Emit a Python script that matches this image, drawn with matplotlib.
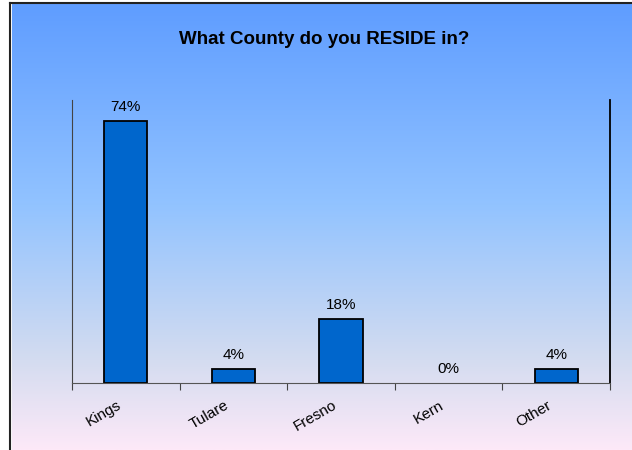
import numpy as np
import matplotlib.pyplot as plt
import matplotlib.transforms as mtransforms
from matplotlib.colors import LinearSegmentedColormap

plt.rcParams['font.family'] = ['Liberation Sans', 'DejaVu Sans']

# survey answers
counties = ['Kings', 'Tulare', 'Fresno', 'Kern', 'Other']
percent = [74, 4, 18, 0, 4]

fig = plt.figure(figsize=(6.32, 4.5), dpi=100)

# gradient background behind the chart
bg = fig.add_axes([12 / 632, 0, 620 / 632, 446 / 450])
grad = LinearSegmentedColormap.from_list(
    'bg', [(0.0, '#5f9dff'), (0.45, '#92c3ff'), (0.8, '#d4dcf0'), (1.0, '#fde9f8')])
bg.imshow(np.linspace(0, 1, 256).reshape(-1, 1), aspect='auto', cmap=grad,
          extent=[0, 1, 0, 1], origin='upper')
bg.set_axis_off()

# frame lines on left and top
fig.add_artist(plt.Line2D([10.5 / 632, 10.5 / 632], [0, 447.5 / 450], color='#222222', lw=1.5))
fig.add_artist(plt.Line2D([10.5 / 632, 1], [447.5 / 450, 447.5 / 450], color='#222222', lw=1.5))

ax = fig.add_axes([72 / 632, 67 / 450, 538 / 632, 283 / 450])
ax.patch.set_alpha(0)
x = np.arange(len(counties))
bars = ax.bar(x, percent, width=0.4, color='#0066cc', edgecolor='black',
              linewidth=[1.3 if p > 0 else 0 for p in percent])
ax.bar_label(bars, labels=[f'{p}%' for p in percent], padding=5, fontsize=11)

ax.set_xlim(-0.5, len(counties) - 0.5)
ax.set_ylim(0, 80)
ax.set_yticks([])
ax.set_xticks(np.arange(len(counties) + 1) - 0.5)
ax.set_xticklabels([])
ax.set_xticks(x, minor=True)
ax.set_xticklabels(counties, minor=True, rotation=30, ha='right', rotation_mode='anchor', fontsize=11)
ax.tick_params(axis='x', which='major', direction='out', length=5, color='#444444')
ax.tick_params(axis='x', which='minor', length=0, pad=11)
shift = mtransforms.ScaledTranslation(-9 / 100, 0, fig.dpi_scale_trans)
for lbl in ax.get_xticklabels(minor=True):
    lbl.set_transform(lbl.get_transform() + shift)

ax.spines['top'].set_visible(False)
ax.spines['left'].set_color('#444444')
ax.spines['bottom'].set_color('#555555')
ax.spines['right'].set_color('black')
ax.spines['right'].set_linewidth(1.3)

fig.text(324 / 632, 1 - 39 / 450, 'What County do you RESIDE in?', ha='center', va='center',
         fontsize=13.5, fontweight='bold')

fig.savefig('out.png', dpi=100)
